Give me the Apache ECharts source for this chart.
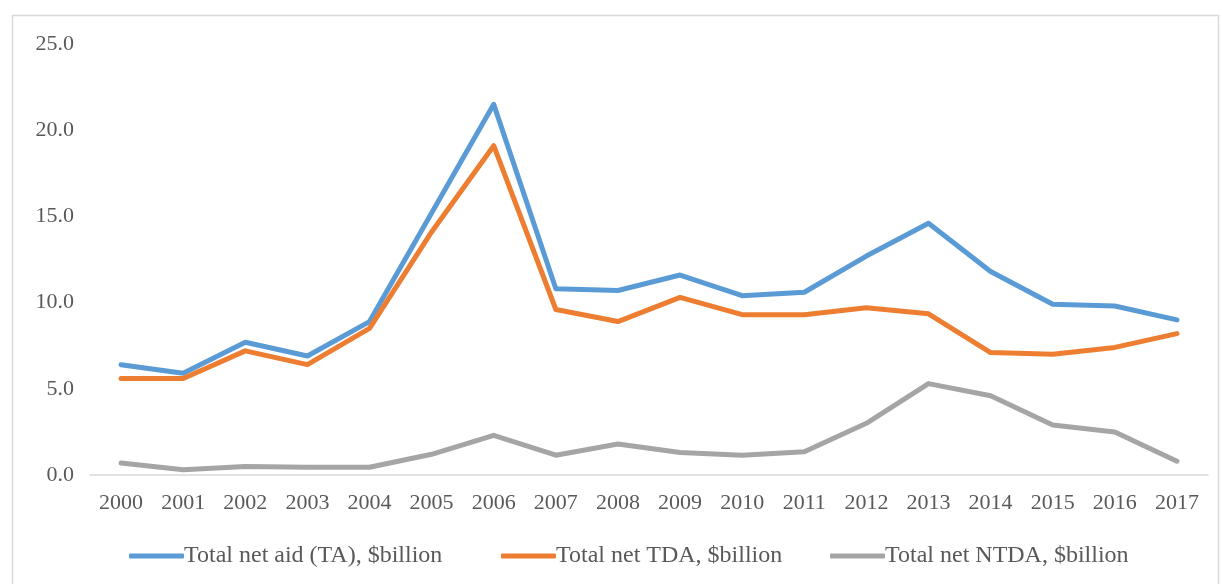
<!DOCTYPE html>
<html>
<head>
<meta charset="utf-8">
<script src="https://cdn.jsdelivr.net/npm/echarts@6/dist/echarts.min.js"></script>
<style>
  html, body { margin: 0; padding: 0; background: #ffffff; }
  #chart { width: 1222px; height: 584px; }
</style>
</head>
<body>
<div id="chart"></div>
<script>
// Years on the category axis
const years = ['2000','2001','2002','2003','2004','2005','2006','2007','2008',
               '2009','2010','2011','2012','2013','2014','2015','2016','2017'];

// Net aid flows, $ billion
const totalAid = [6.4, 5.9, 7.7, 6.9, 8.9, 15.2, 21.5, 10.8, 10.7,
                  11.6, 10.4, 10.6, 12.7, 14.6, 11.8, 9.9, 9.8, 9.0];
const totalTDA = [5.6, 5.6, 7.2, 6.4, 8.5, 14.1, 19.1, 9.6, 8.9,
                  10.3, 9.3, 9.3, 9.7, 9.35, 7.1, 7.0, 7.4, 8.2];
const totalNTDA = [0.7, 0.3, 0.5, 0.45, 0.45, 1.2, 2.3, 1.15, 1.8,
                   1.3, 1.15, 1.35, 3.0, 5.3, 4.6, 2.9, 2.5, 0.8];

const seriesNames = ['Total net aid (TA), $billion', 'Total net TDA, $billion', 'Total net NTDA, $billion'];
const colors = ['#5B9BD5', '#ED7D31', '#A5A5A5'];

const FONT = '"Liberation Serif", "Times New Roman", serif';

const chart = echarts.init(document.getElementById('chart'), null, { renderer: 'canvas' });

function lineSeries(name, data, color) {
  return {
    name: name,
    type: 'line',
    data: data,
    symbol: 'none',
    smooth: false,
    color: color,
    lineStyle: { width: 5, color: color, cap: 'round', join: 'round' },
    itemStyle: { color: color },
    emphasis: { disabled: true }
  };
}

// One legend entry per component so each sits at its own offset
function legendItem(name, left) {
  return {
    left: left,
    top: 539,
    icon: 'roundRect',
    itemWidth: 55,
    itemHeight: 5,
    selectedMode: false,
    textStyle: { fontFamily: FONT, fontSize: 24, color: '#595959', padding: [0, 0, 0, -5] },
    data: [name]
  };
}

chart.setOption({
  animation: false,
  backgroundColor: '#ffffff',
  textStyle: { fontFamily: FONT },
  graphic: [{
    type: 'rect',
    shape: { x: 12.5, y: 15.5, width: 1206, height: 600 },
    style: { fill: 'none', stroke: '#d9d9d9', lineWidth: 1.5 },
    silent: true,
    z: -1
  }],
  grid: { left: 90, right: 14, top: 44, bottom: 109, containLabel: false },
  legend: [
    legendItem(seriesNames[0], 124),
    legendItem(seriesNames[1], 496),
    legendItem(seriesNames[2], 825)
  ],
  xAxis: {
    type: 'category',
    data: years,
    boundaryGap: true,
    axisLine: { show: true, lineStyle: { color: '#d9d9d9', width: 1.5 } },
    axisTick: { show: false },
    axisLabel: { fontFamily: FONT, fontSize: 22, color: '#595959', margin: 17 },
    splitLine: { show: false }
  },
  yAxis: {
    type: 'value',
    min: 0,
    max: 25,
    interval: 5,
    axisLine: { show: false },
    axisTick: { show: false },
    splitLine: { show: false },
    axisLabel: {
      fontFamily: FONT, fontSize: 22, color: '#595959', margin: 16,
      formatter: v => v.toFixed(1)
    }
  },
  series: [
    lineSeries(seriesNames[0], totalAid, colors[0]),
    lineSeries(seriesNames[1], totalTDA, colors[1]),
    lineSeries(seriesNames[2], totalNTDA, colors[2])
  ]
});
</script>
</body>
</html>
